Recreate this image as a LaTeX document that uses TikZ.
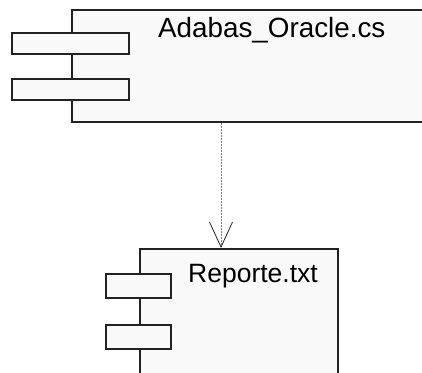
\documentclass[tikz,border=0pt]{standalone}
\usepackage{fontspec}
\setmainfont{Liberation Sans}
\usetikzlibrary{arrows.meta,positioning,calc}
\definecolor{compline}{HTML}{222222}
\definecolor{compfill}{HTML}{F9F9F9}
\tikzset{
  compbox/.style={rectangle,draw=compline,fill=compfill,line width=2pt,anchor=north west,inner sep=0pt},
  portbox/.style={rectangle,draw=compline,fill=compfill,line width=1.6pt,anchor=north west,inner sep=0pt},
  complabel/.style={anchor=base west,inner sep=0pt,text=black},
  dependency/.style={draw=gray,line width=0.8pt,dash pattern=on 2pt off 1pt,
    -{Straight Barb[length=25pt,width=23pt,line width=0.8pt,color=compline]}}
}

\begin{document}
\begin{tikzpicture}[x=1pt,y=-1pt]
  \useasboundingbox (0,0) rectangle (422,372);
  \clip (0,0) rectangle (422,372);

  % component Adabas_Oracle.cs
  \node[compbox,minimum width=380pt,minimum height=112pt] (adabas) at (71,9) {};
  \node[portbox,minimum width=117pt,minimum height=21pt] (adabasp1) at (11,32) {};
  \node[portbox,minimum width=117pt,minimum height=21pt] (adabasp2) at (11,78) {};
  \node[complabel,font=\fontsize{27.8}{30}\selectfont] (adabaslbl) at (158,37) {Adabas\_Oracle.cs};

  % component Reporte.txt
  \node[compbox,minimum width=198pt,minimum height=140pt] (reporte) at (139,248) {};
  \node[portbox,minimum width=65pt,minimum height=24pt] (reportep1) at (105,273) {};
  \node[portbox,minimum width=65pt,minimum height=24pt] (reportep2) at (105,324) {};
  \node[complabel,font=\fontsize{26.5}{28}\selectfont] (reportelbl) at (188,282) {Reporte.txt};

  % dependency
  \coordinate (deptip) at ($(reporte.north west)+(82,0)$);
  \draw[dependency] (adabas.south -| deptip) -- (deptip);
\end{tikzpicture}
\end{document}
